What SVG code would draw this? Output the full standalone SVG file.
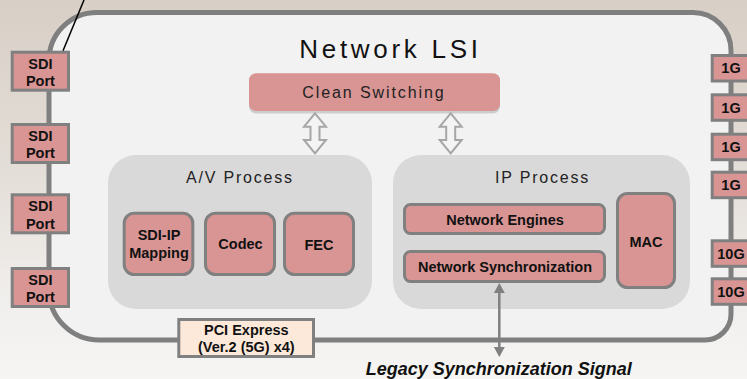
<svg xmlns="http://www.w3.org/2000/svg" width="747" height="379" viewBox="0 0 747 379">
  <defs>
    <linearGradient id="bg" x1="0" y1="0" x2="0" y2="1">
      <stop offset="0" stop-color="#d8cfc6"/>
      <stop offset="0.45" stop-color="#e4ded8"/>
      <stop offset="0.8" stop-color="#f1efed"/>
      <stop offset="1" stop-color="#f6f5f4"/>
    </linearGradient>
    <marker id="head" viewBox="0 0 10 11" refX="8" refY="5.5" markerWidth="10" markerHeight="11" markerUnits="userSpaceOnUse" orient="auto-start-reverse">
      <path d="M0,0 L10,5.5 L0,11 Z" fill="#808080"/>
    </marker>
    <path id="dbl" d="M0,-20 L11,-6.6 L4.5,-6.6 L4.5,6.6 L11,6.6 L0,20 L-11,6.6 L-4.5,6.6 L-4.5,-6.6 L-11,-6.6 Z"/>
    <style>
      .frame { fill: #f2f2f2; stroke: #7f7f7f; stroke-width: 5; }
      .proc { fill: #d9d9d9; }
      .blk { fill: #d99594; stroke: #808080; stroke-width: 3; }
      .pci { fill: #fde9d9; stroke: #808080; stroke-width: 3; }
      .lbl { font-family: "Liberation Sans", Arial, sans-serif; font-weight: bold; font-size: 14.5px; fill: #111; text-anchor: middle; }
      .head { font-family: "Liberation Sans", Arial, sans-serif; font-size: 16px; fill: #222; letter-spacing: 1.8px; }
      .title { font-family: "Liberation Sans", Arial, sans-serif; font-size: 26px; fill: #111; letter-spacing: 3.7px; }
      .sig { font-family: "Liberation Sans", Arial, sans-serif; font-weight: bold; font-style: italic; font-size: 18px; fill: #111; text-anchor: middle; }
      .dbl { fill: #f4f4f4; stroke: #a6a6a6; stroke-width: 2; }
      .sync { stroke: #808080; stroke-width: 2.5; fill: none; }
    </style>
  </defs>

  <!-- backdrop -->
  <rect x="0" y="0" width="747" height="379" fill="url(#bg)"/>

  <!-- chip outline -->
  <g id="network-lsi">
    <path class="frame" d="M97,12.5 H693 A38,38 0 0 1 731,50.5 V314 A26,26 0 0 1 705,340 H99 A50,50 0 0 1 49,290 V60.5 A48,48 0 0 1 97,12.5 Z"/>
    <text class="title" x="299.3" y="58.3">Network LSI</text>
  </g>

  <g id="clean-switching">
    <rect x="249" y="75.8" width="251" height="37.7" rx="7" fill="#cdcdcd"/>
    <rect x="249" y="73.3" width="251" height="37.7" rx="7" fill="#d99594"/>
    <text class="head" x="302.3" y="97.7" style="letter-spacing:1.9px">Clean Switching</text>
  </g>

  <!-- A/V processing block -->
  <g id="av-process">
    <rect class="proc" x="108" y="155" width="264" height="154" rx="28"/>
    <text class="head" x="186" y="183.3">A/V Process</text>
  </g>
  <g id="sdi-ip-mapping">
    <rect class="blk" x="124.2" y="213.2" width="68.6" height="61.3" rx="10"/>
    <text class="lbl" x="159" y="240">SDI-IP</text>
    <text class="lbl" x="159" y="258">Mapping</text>
  </g>
  <g id="codec">
    <rect class="blk" x="205.5" y="213.2" width="69" height="61.3" rx="10"/>
    <text class="lbl" x="240.5" y="249">Codec</text>
  </g>
  <g id="fec">
    <rect class="blk" x="284.5" y="213.2" width="69" height="61.3" rx="10"/>
    <text class="lbl" x="319" y="250">FEC</text>
  </g>

  <!-- IP processing block -->
  <g id="ip-process">
    <rect class="proc" x="393" y="155" width="297" height="154" rx="28"/>
    <text class="head" x="495" y="183">IP Process</text>
  </g>
  <g id="network-engines">
    <rect class="blk" x="404.5" y="204.5" width="200" height="29" rx="6"/>
    <text class="lbl" x="505" y="225">Network Engines</text>
  </g>
  <g id="network-sync">
    <rect class="blk" x="404.5" y="251.5" width="200" height="30" rx="6"/>
    <text class="lbl" x="505" y="271.7">Network Synchronization</text>
  </g>
  <g id="mac">
    <rect class="blk" x="617.5" y="193.5" width="57" height="94" rx="10"/>
    <text class="lbl" x="646" y="246.7">MAC</text>
  </g>

  <!-- SDI ports on the left edge -->
  <g id="sdi-port-1">
    <rect class="blk" x="12.2" y="52.2" width="56.3" height="38"/>
    <text class="lbl" x="40.4" y="68.5">SDI</text>
    <text class="lbl" x="40.4" y="86">Port</text>
  </g>
  <g id="sdi-port-2">
    <rect class="blk" x="12.2" y="124.5" width="56.3" height="38"/>
    <text class="lbl" x="40.4" y="140.8">SDI</text>
    <text class="lbl" x="40.4" y="158.3">Port</text>
  </g>
  <g id="sdi-port-3">
    <rect class="blk" x="12.2" y="194.8" width="56.3" height="38"/>
    <text class="lbl" x="40.4" y="211.1">SDI</text>
    <text class="lbl" x="40.4" y="228.6">Port</text>
  </g>
  <g id="sdi-port-4">
    <rect class="blk" x="12.2" y="268.5" width="56.3" height="38"/>
    <text class="lbl" x="40.4" y="284.8">SDI</text>
    <text class="lbl" x="40.4" y="302.3">Port</text>
  </g>

  <!-- Ethernet ports on the right edge -->
  <g id="port-1g-1">
    <rect class="blk" x="712.2" y="55.5" width="40" height="25.5"/>
    <text class="lbl" x="731" y="73.3">1G</text>
  </g>
  <g id="port-1g-2">
    <rect class="blk" x="712.2" y="94.8" width="40" height="25.5"/>
    <text class="lbl" x="731" y="112.6">1G</text>
  </g>
  <g id="port-1g-3">
    <rect class="blk" x="712.2" y="134.2" width="40" height="25.5"/>
    <text class="lbl" x="731" y="152">1G</text>
  </g>
  <g id="port-1g-4">
    <rect class="blk" x="712.2" y="172.2" width="40" height="25.5"/>
    <text class="lbl" x="731" y="190">1G</text>
  </g>
  <g id="port-10g-1">
    <rect class="blk" x="712.2" y="240.8" width="40" height="25.5"/>
    <text class="lbl" x="731" y="258.6">10G</text>
  </g>
  <g id="port-10g-2">
    <rect class="blk" x="712.2" y="278.8" width="40" height="25.5"/>
    <text class="lbl" x="731" y="296.6">10G</text>
  </g>

  <!-- host interface -->
  <g id="pci-express">
    <rect class="pci" x="178.8" y="319.5" width="134.7" height="37"/>
    <text class="lbl" x="246.3" y="335">PCI Express</text>
    <text class="lbl" x="246.3" y="351.7">(Ver.2 (5G) x4)</text>
  </g>

  <g id="legacy-signal">
    <text class="sig" x="498.8" y="374.6">Legacy Synchronization Signal</text>
  </g>

  <!-- connectors -->
  <g id="connectors">
    <use href="#dbl" class="dbl" transform="translate(315,133.3)"/>
    <use href="#dbl" class="dbl" transform="translate(450.7,133.3)"/>
    <line class="sync" x1="499.3" y1="285" x2="499.3" y2="355" marker-start="url(#head)" marker-end="url(#head)"/>
    <line x1="84" y1="0" x2="63" y2="50.7" stroke="#000" stroke-width="1.5"/>
  </g>
</svg>
